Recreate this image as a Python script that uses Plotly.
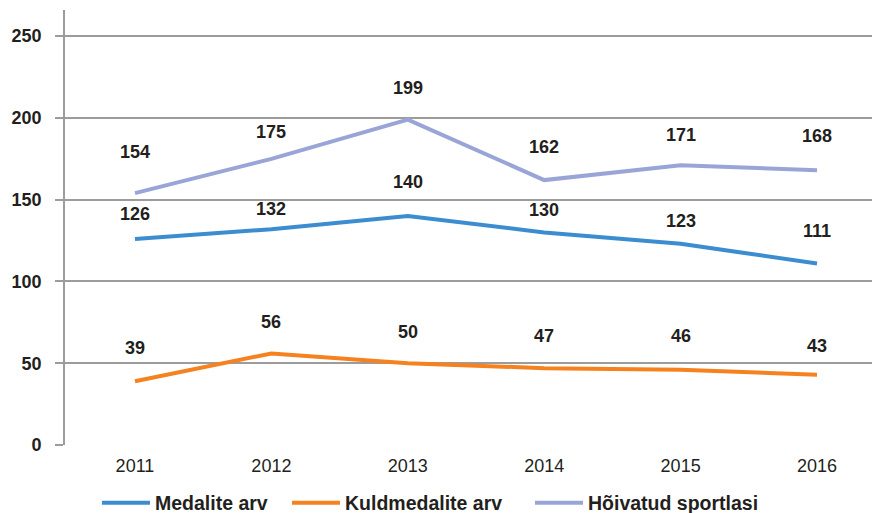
import plotly.graph_objects as go

years = ["2011", "2012", "2013", "2014", "2015", "2016"]
medalite_arv = [126, 132, 140, 130, 123, 111]
kuldmedalite_arv = [39, 56, 50, 47, 46, 43]
hoivatud_sportlasi = [154, 175, 199, 162, 171, 168]
y_ticks = [0, 50, 100, 150, 200, 250]

series = [
    ("Medalite arv", medalite_arv, "#3B8DD0", [25, 20, 34, 22, 23, 32], "legend", 0.1112),
    ("Kuldmedalite arv", kuldmedalite_arv, "#F5821F", [33, 31, 31, 32, 34, 29], "legend2", 0.3291),
    ("Hõivatud sportlasi", hoivatud_sportlasi, "#9AA5D7", [41, 27, 32, 33, 30, 34], "legend3", 0.6078),
]

FONT = "Liberation Sans, Arial, sans-serif"
TXT = "#231F20"
GRID = "#9C9C9C"

fig = go.Figure()
legends = {}
for name, vals, color, shifts, leg, lx in series:
    fig.add_trace(go.Scatter(
        x=years, y=vals, name=name, mode="lines",
        line=dict(color=color, width=4),
        hoverinfo="skip", legend=leg,
    ))
    legends[leg] = dict(
        orientation="h", xref="container", yref="container",
        x=lx, xanchor="left", y=0.0195, yanchor="middle",
        font=dict(family=FONT, size=19.5, color=TXT, weight="bold"),
        itemwidth=48, bgcolor="rgba(0,0,0,0)",
    )
    for i, (v, s) in enumerate(zip(vals, shifts)):
        fig.add_annotation(
            x=i, y=v, xref="x", yref="y", text=str(v), showarrow=False,
            yshift=s, font=dict(family=FONT, size=18, color=TXT, weight="bold"),
        )

fig.update_layout(
    width=872, height=513,
    margin=dict(l=65, r=0, t=10, b=68, autoexpand=False),
    paper_bgcolor="white", plot_bgcolor="white",
    font=dict(family=FONT, color=TXT, size=18),
    showlegend=True,
    **legends,
)
fig.update_xaxes(
    type="category", range=[-0.513, 5.403],
    showgrid=False, showline=False, ticks="",
    tickfont=dict(family=FONT, size=18, color=TXT),
    ticklabelstandoff=8,
)
fig.update_yaxes(
    range=[0, 266], tickvals=y_ticks,
    showgrid=True, gridcolor=GRID, gridwidth=1.8,
    showline=True, linecolor=GRID, linewidth=1.8,
    ticks="outside", ticklen=8, tickcolor=GRID, tickwidth=1.8,
    tickfont=dict(family=FONT, size=18, color=TXT, weight="bold"),
    ticklabelstandoff=10,
    zeroline=False,
)
fig.write_html("out.html", post_script="document.body.style.margin='0';", config={"displayModeBar": False})
